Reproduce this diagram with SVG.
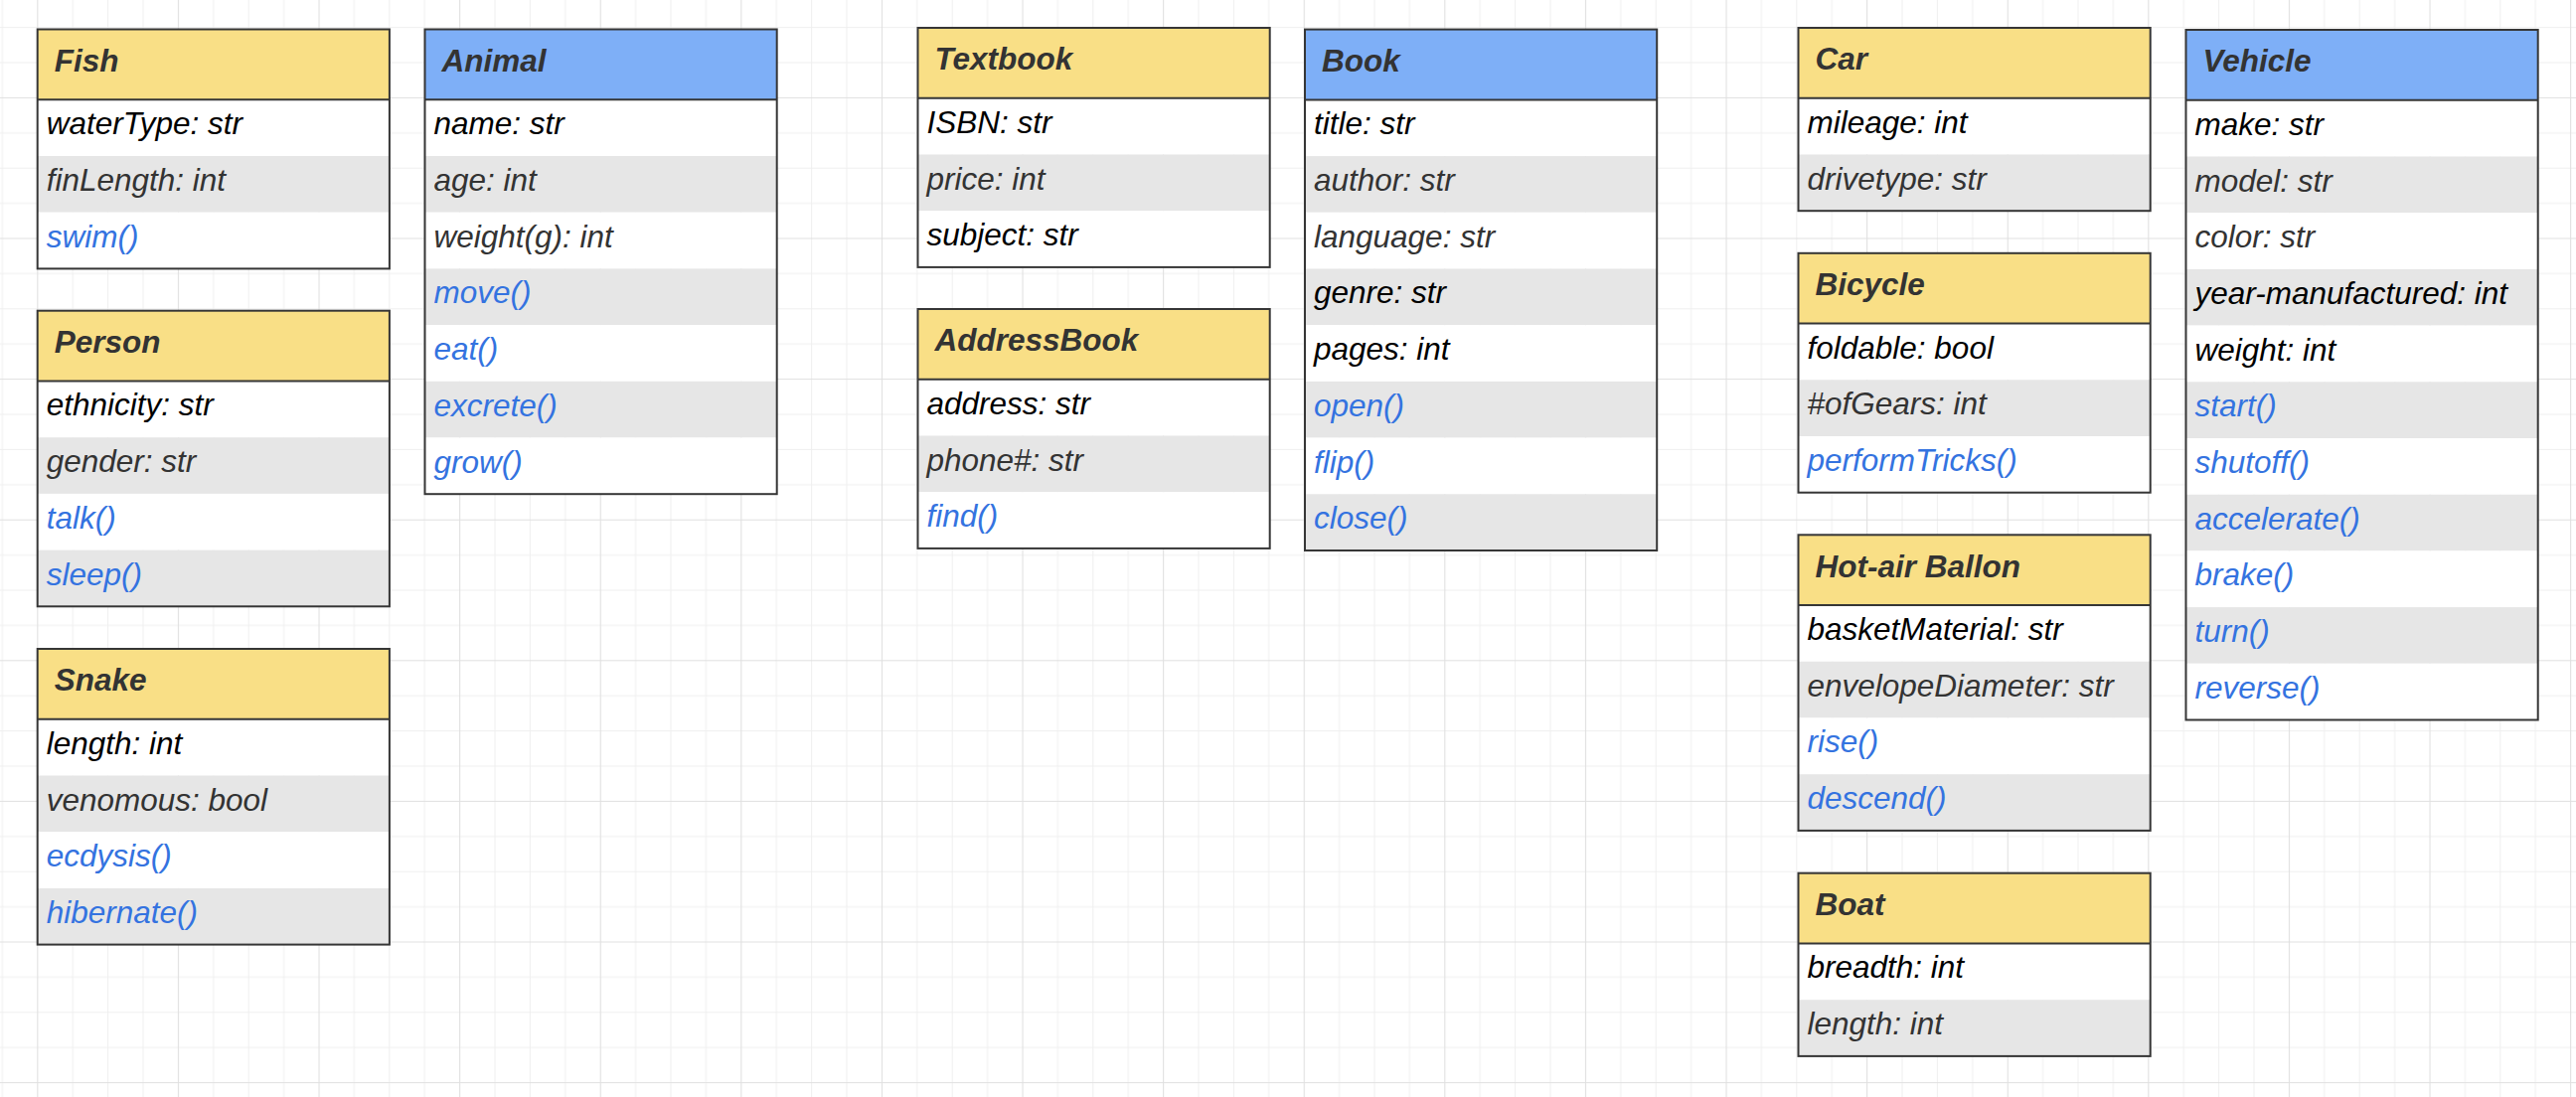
<svg xmlns="http://www.w3.org/2000/svg" width="2592" height="1104" viewBox="0 0 2592 1104">
<defs>
<pattern id="grid" width="141.6" height="141.6" patternUnits="userSpaceOnUse" x="37.3" y="97.9">
<path d="M35.9 0V141.6M71.3 0V141.6M106.7 0V141.6M0 35.9H141.6M0 71.3H141.6M0 106.7H141.6" stroke="#efefef" stroke-width="1" fill="none"/>
<path d="M0.5 0V141.6M0 0.5H141.6" stroke="#e0e0e0" stroke-width="1.2" fill="none"/>
</pattern>
<style>
.hy{fill:#F9DF86}
.hb{fill:#7EAFF7}
.rw{fill:#FFFFFF}
.rg{fill:#E6E6E6}
.frame{fill:none;stroke:#363636;stroke-width:2}
.sep{stroke:#363636;stroke-width:2}
text{font-family:"Liberation Sans",Arial,sans-serif;font-style:italic;font-size:31.5px}
.title{font-weight:bold;fill:#333333}
.k{fill:#000000}
.d{fill:#333333}
.b{fill:#3473E0}
</style>
</defs>
<rect width="2592" height="1104" fill="#FFFFFF"/>
<rect width="2592" height="1104" fill="url(#grid)"/>

<g id="connectors"></g>

<g id="fish" transform="translate(37.7,29.5)">
<rect class="hy" width="354.2" height="70.8"/>
<rect class="rw" y="70.8" width="354.2" height="56.7"/>
<rect class="rg" y="127.5" width="354.2" height="56.7"/>
<rect class="rw" y="184.2" width="354.2" height="56.7"/>
<rect class="frame" width="354.2" height="240.9"/>
<line class="sep" x1="0" y1="70.8" x2="354.2" y2="70.8"/>
<text class="title" x="17" y="42.3">Fish</text>
<text class="k" x="9" y="105.8">waterType: str</text>
<text class="d" x="9" y="162.5">finLength: int</text>
<text class="b" x="9" y="219.2">swim()</text>
</g>

<g id="animal" transform="translate(427.5,29.5)">
<rect class="hb" width="354.2" height="70.8"/>
<rect class="rw" y="70.8" width="354.2" height="56.7"/>
<rect class="rg" y="127.5" width="354.2" height="56.7"/>
<rect class="rw" y="184.2" width="354.2" height="56.7"/>
<rect class="rg" y="240.9" width="354.2" height="56.7"/>
<rect class="rw" y="297.6" width="354.2" height="56.7"/>
<rect class="rg" y="354.3" width="354.2" height="56.7"/>
<rect class="rw" y="411" width="354.2" height="56.7"/>
<rect class="frame" width="354.2" height="467.7"/>
<line class="sep" x1="0" y1="70.8" x2="354.2" y2="70.8"/>
<text class="title" x="17" y="42.3">Animal</text>
<text class="k" x="9" y="105.8">name: str</text>
<text class="d" x="9" y="162.5">age: int</text>
<text class="d" x="9" y="219.2">weight(g): int</text>
<text class="b" x="9" y="275.9">move()</text>
<text class="b" x="9" y="332.6">eat()</text>
<text class="b" x="9" y="389.3">excrete()</text>
<text class="b" x="9" y="446">grow()</text>
</g>

<g id="person" transform="translate(37.7,312.7)">
<rect class="hy" width="354.2" height="70.8"/>
<rect class="rw" y="70.8" width="354.2" height="56.7"/>
<rect class="rg" y="127.5" width="354.2" height="56.7"/>
<rect class="rw" y="184.2" width="354.2" height="56.7"/>
<rect class="rg" y="240.9" width="354.2" height="56.7"/>
<rect class="frame" width="354.2" height="297.6"/>
<line class="sep" x1="0" y1="70.8" x2="354.2" y2="70.8"/>
<text class="title" x="17" y="42.3">Person</text>
<text class="k" x="9" y="105.8">ethnicity: str</text>
<text class="d" x="9" y="162.5">gender: str</text>
<text class="b" x="9" y="219.2">talk()</text>
<text class="b" x="9" y="275.9">sleep()</text>
</g>

<g id="snake" transform="translate(37.7,653)">
<rect class="hy" width="354.2" height="70.8"/>
<rect class="rw" y="70.8" width="354.2" height="56.7"/>
<rect class="rg" y="127.5" width="354.2" height="56.7"/>
<rect class="rw" y="184.2" width="354.2" height="56.7"/>
<rect class="rg" y="240.9" width="354.2" height="56.7"/>
<rect class="frame" width="354.2" height="297.6"/>
<line class="sep" x1="0" y1="70.8" x2="354.2" y2="70.8"/>
<text class="title" x="17" y="42.3">Snake</text>
<text class="k" x="9" y="105.8">length: int</text>
<text class="d" x="9" y="162.5">venomous: bool</text>
<text class="b" x="9" y="219.2">ecdysis()</text>
<text class="b" x="9" y="275.9">hibernate()</text>
</g>

<g id="textbook" transform="translate(923.5,28)">
<rect class="hy" width="354.2" height="70.8"/>
<rect class="rw" y="70.8" width="354.2" height="56.7"/>
<rect class="rg" y="127.5" width="354.2" height="56.7"/>
<rect class="rw" y="184.2" width="354.2" height="56.7"/>
<rect class="frame" width="354.2" height="240.9"/>
<line class="sep" x1="0" y1="70.8" x2="354.2" y2="70.8"/>
<text class="title" x="17" y="42.3">Textbook</text>
<text class="k" x="9" y="105.8">ISBN: str</text>
<text class="d" x="9" y="162.5">price: int</text>
<text class="k" x="9" y="219.2">subject: str</text>
</g>

<g id="addressbook" transform="translate(923.5,311)">
<rect class="hy" width="354.2" height="70.8"/>
<rect class="rw" y="70.8" width="354.2" height="56.7"/>
<rect class="rg" y="127.5" width="354.2" height="56.7"/>
<rect class="rw" y="184.2" width="354.2" height="56.7"/>
<rect class="frame" width="354.2" height="240.9"/>
<line class="sep" x1="0" y1="70.8" x2="354.2" y2="70.8"/>
<text class="title" x="17" y="42.3">AddressBook</text>
<text class="k" x="9" y="105.8">address: str</text>
<text class="d" x="9" y="162.5">phone#: str</text>
<text class="b" x="9" y="219.2">find()</text>
</g>

<g id="book" transform="translate(1313,29.6)">
<rect class="hb" width="354.2" height="70.8"/>
<rect class="rw" y="70.8" width="354.2" height="56.7"/>
<rect class="rg" y="127.5" width="354.2" height="56.7"/>
<rect class="rw" y="184.2" width="354.2" height="56.7"/>
<rect class="rg" y="240.9" width="354.2" height="56.7"/>
<rect class="rw" y="297.6" width="354.2" height="56.7"/>
<rect class="rg" y="354.3" width="354.2" height="56.7"/>
<rect class="rw" y="411" width="354.2" height="56.7"/>
<rect class="rg" y="467.7" width="354.2" height="56.7"/>
<rect class="frame" width="354.2" height="524.4"/>
<line class="sep" x1="0" y1="70.8" x2="354.2" y2="70.8"/>
<text class="title" x="17" y="42.3">Book</text>
<text class="k" x="9" y="105.8">title: str</text>
<text class="d" x="9" y="162.5">author: str</text>
<text class="d" x="9" y="219.2">language: str</text>
<text class="k" x="9" y="275.9">genre: str</text>
<text class="k" x="9" y="332.6">pages: int</text>
<text class="b" x="9" y="389.3">open()</text>
<text class="b" x="9" y="446">flip()</text>
<text class="b" x="9" y="502.7">close()</text>
</g>

<g id="car" transform="translate(1809.5,28)">
<rect class="hy" width="354.2" height="70.8"/>
<rect class="rw" y="70.8" width="354.2" height="56.7"/>
<rect class="rg" y="127.5" width="354.2" height="56.7"/>
<rect class="frame" width="354.2" height="184.2"/>
<line class="sep" x1="0" y1="70.8" x2="354.2" y2="70.8"/>
<text class="title" x="17" y="42.3">Car</text>
<text class="k" x="9" y="105.8">mileage: int</text>
<text class="d" x="9" y="162.5">drivetype: str</text>
</g>

<g id="bicycle" transform="translate(1809.5,254.8)">
<rect class="hy" width="354.2" height="70.8"/>
<rect class="rw" y="70.8" width="354.2" height="56.7"/>
<rect class="rg" y="127.5" width="354.2" height="56.7"/>
<rect class="rw" y="184.2" width="354.2" height="56.7"/>
<rect class="frame" width="354.2" height="240.9"/>
<line class="sep" x1="0" y1="70.8" x2="354.2" y2="70.8"/>
<text class="title" x="17" y="42.3">Bicycle</text>
<text class="k" x="9" y="105.8">foldable: bool</text>
<text class="d" x="9" y="162.5">#ofGears: int</text>
<text class="b" x="9" y="219.2">performTricks()</text>
</g>

<g id="hotairballon" transform="translate(1809.5,538.3)">
<rect class="hy" width="354.2" height="70.8"/>
<rect class="rw" y="70.8" width="354.2" height="56.7"/>
<rect class="rg" y="127.5" width="354.2" height="56.7"/>
<rect class="rw" y="184.2" width="354.2" height="56.7"/>
<rect class="rg" y="240.9" width="354.2" height="56.7"/>
<rect class="frame" width="354.2" height="297.6"/>
<line class="sep" x1="0" y1="70.8" x2="354.2" y2="70.8"/>
<text class="title" x="17" y="42.3">Hot-air Ballon</text>
<text class="k" x="9" y="105.8">basketMaterial: str</text>
<text class="d" x="9" y="162.5">envelopeDiameter: str</text>
<text class="b" x="9" y="219.2">rise()</text>
<text class="b" x="9" y="275.9">descend()</text>
</g>

<g id="boat" transform="translate(1809.5,878.7)">
<rect class="hy" width="354.2" height="70.8"/>
<rect class="rw" y="70.8" width="354.2" height="56.7"/>
<rect class="rg" y="127.5" width="354.2" height="56.7"/>
<rect class="frame" width="354.2" height="184.2"/>
<line class="sep" x1="0" y1="70.8" x2="354.2" y2="70.8"/>
<text class="title" x="17" y="42.3">Boat</text>
<text class="k" x="9" y="105.8">breadth: int</text>
<text class="d" x="9" y="162.5">length: int</text>
</g>

<g id="vehicle" transform="translate(2199.5,30)">
<rect class="hb" width="354.2" height="70.8"/>
<rect class="rw" y="70.8" width="354.2" height="56.7"/>
<rect class="rg" y="127.5" width="354.2" height="56.7"/>
<rect class="rw" y="184.2" width="354.2" height="56.7"/>
<rect class="rg" y="240.9" width="354.2" height="56.7"/>
<rect class="rw" y="297.6" width="354.2" height="56.7"/>
<rect class="rg" y="354.3" width="354.2" height="56.7"/>
<rect class="rw" y="411" width="354.2" height="56.7"/>
<rect class="rg" y="467.7" width="354.2" height="56.7"/>
<rect class="rw" y="524.4" width="354.2" height="56.7"/>
<rect class="rg" y="581.1" width="354.2" height="56.7"/>
<rect class="rw" y="637.8" width="354.2" height="56.7"/>
<rect class="frame" width="354.2" height="694.5"/>
<line class="sep" x1="0" y1="70.8" x2="354.2" y2="70.8"/>
<text class="title" x="17" y="42.3">Vehicle</text>
<text class="k" x="9" y="105.8">make: str</text>
<text class="d" x="9" y="162.5">model: str</text>
<text class="d" x="9" y="219.2">color: str</text>
<text class="k" x="9" y="275.9">year-manufactured: int</text>
<text class="k" x="9" y="332.6">weight: int</text>
<text class="b" x="9" y="389.3">start()</text>
<text class="b" x="9" y="446">shutoff()</text>
<text class="b" x="9" y="502.7">accelerate()</text>
<text class="b" x="9" y="559.4">brake()</text>
<text class="b" x="9" y="616.1">turn()</text>
<text class="b" x="9" y="672.8">reverse()</text>
</g>
</svg>
